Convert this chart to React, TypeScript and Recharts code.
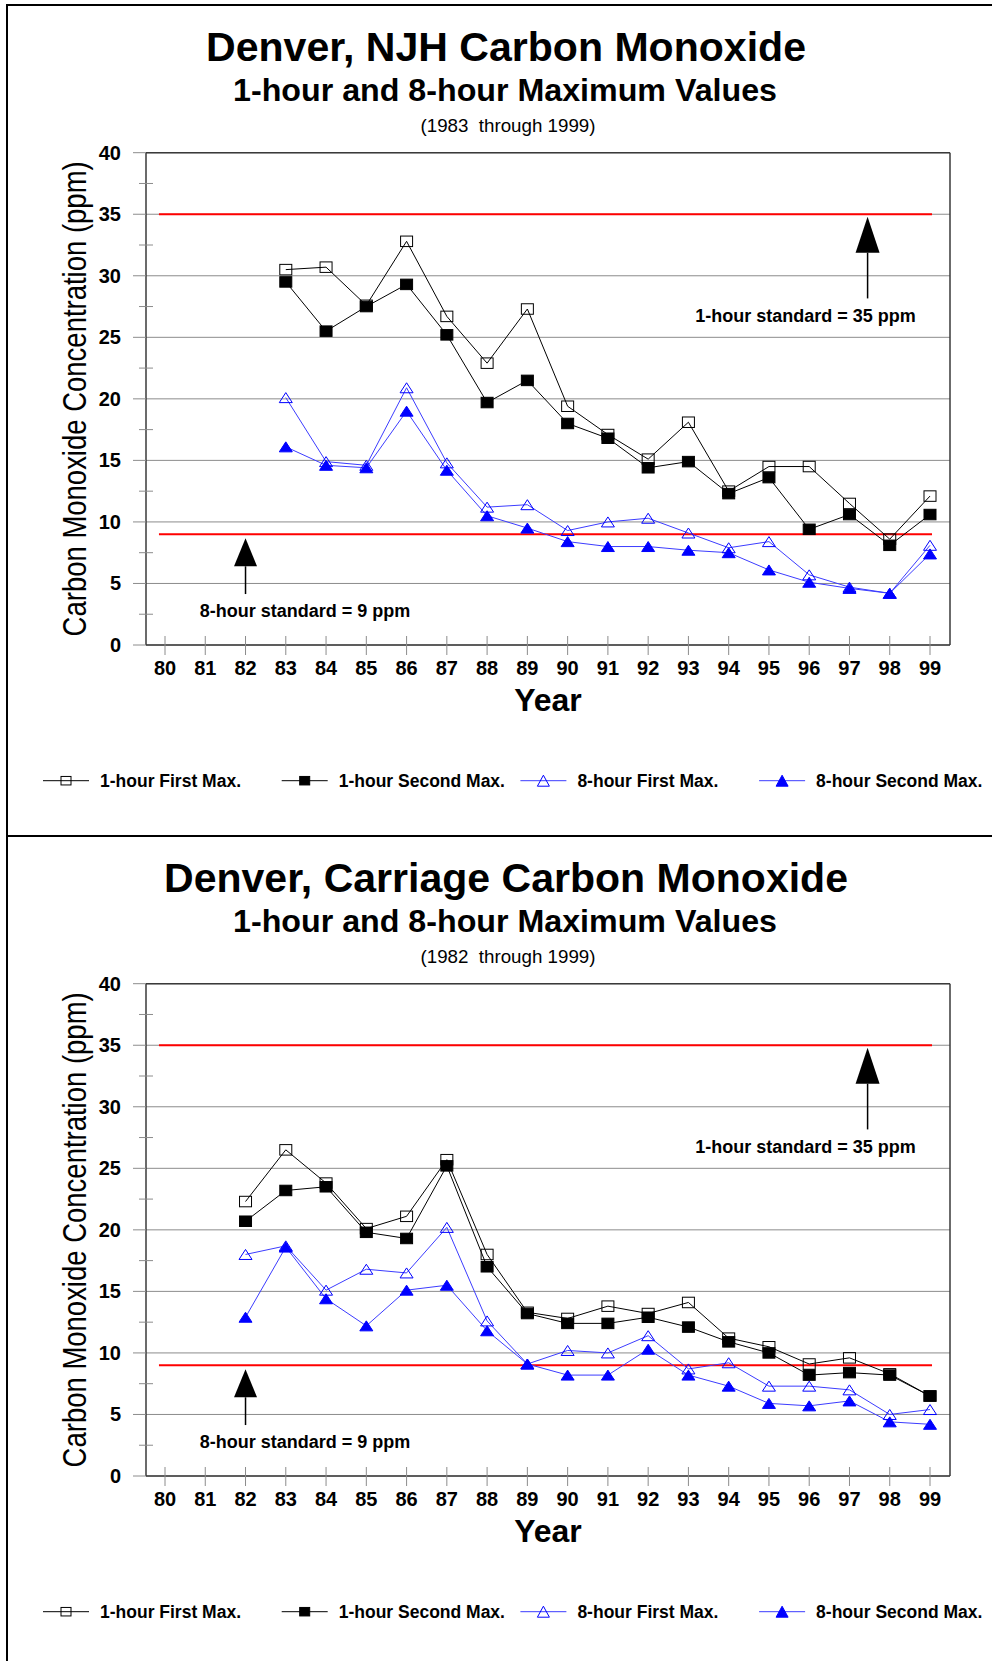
// Denver carbon monoxide trends, two stacked panels (NJH and Carriage sites).
import {
  CartesianGrid,
  Label,
  Legend,
  Line,
  LineChart,
  ReferenceDot,
  ReferenceLine,
  XAxis,
  YAxis,
} from 'recharts';

const YEAR_TICKS = [80, 81, 82, 83, 84, 85, 86, 87, 88, 89, 90, 91, 92, 93, 94, 95, 96, 97, 98, 99];
const PPM_TICKS = [0, 2.5, 5, 7.5, 10, 12.5, 15, 17.5, 20, 22.5, 25, 27.5, 30, 32.5, 35, 37.5, 40];
const PPM_GRID = [0, 5, 10, 15, 20, 25, 30, 35, 40];

// Denver, NJH (1983 through 1999)
const njhYears = [83, 84, 85, 86, 87, 88, 89, 90, 91, 92, 93, 94, 95, 96, 97, 98, 99];
const njh1hFirst = [30.5, 30.7, 27.6, 32.8, 26.7, 22.9, 27.3, 19.4, 17.1, 15.1, 18.1, 12.5, 14.5, 14.5, 11.5, 8.6, 12.1];
const njh1hSecond = [29.5, 25.5, 27.5, 29.3, 25.2, 19.7, 21.5, 18.0, 16.8, 14.4, 14.9, 12.3, 13.6, 9.4, 10.6, 8.1, 10.6];
const njh8hFirst = [20.1, 14.9, 14.6, 20.9, 14.8, 11.2, 11.4, 9.3, 10.0, 10.3, 9.1, 7.9, 8.4, 5.7, 4.7, 4.2, 8.1];
const njh8hSecond = [16.1, 14.6, 14.4, 19.0, 14.2, 10.5, 9.5, 8.4, 8.0, 8.0, 7.7, 7.5, 6.1, 5.1, 4.6, 4.2, 7.4];

// Denver, Carriage (1982 through 1999)
const carYears = [82, 83, 84, 85, 86, 87, 88, 89, 90, 91, 92, 93, 94, 95, 96, 97, 98, 99];
const car1hFirst = [22.3, 26.5, 23.8, 20.1, 21.1, 25.7, 18.0, 13.3, 12.8, 13.8, 13.2, 14.1, 11.2, 10.5, 9.1, 9.6, 8.3, 6.5];
const car1hSecond = [20.7, 23.2, 23.5, 19.8, 19.3, 25.2, 17.0, 13.2, 12.4, 12.4, 12.9, 12.1, 10.9, 10.0, 8.2, 8.4, 8.2, 6.5];
const car8hFirst = [18.0, 18.7, 15.1, 16.8, 16.5, 20.2, 12.6, 9.1, 10.2, 10.0, 11.4, 8.7, 9.2, 7.3, 7.3, 7.0, 5.0, 5.4];
const car8hSecond = [12.9, 18.6, 14.4, 12.2, 15.1, 15.5, 11.8, 9.1, 8.2, 8.2, 10.3, 8.2, 7.3, 5.9, 5.7, 6.1, 4.4, 4.2];

// NAAQS standards and the arrow annotations, in data units (year, ppm)
const standardValues = [35, 9];
const standardSpan = [79.85, 99.05];
const arrowYears = [82, 97.45];
const arrowTips = [8.67, 34.8];
const arrowTails = [4.14, 28.16];
const arrowLabels = ['8-hour standard = 9 ppm', '1-hour standard = 35 ppm'];
const labelYears = [83.48, 95.91];
const labelValues = [2.27, 26.26];

const W = 992;
const H = 831;
const FONT = '"Liberation Sans", Arial, Helvetica, sans-serif';
const GRID = '#8c8c8c';
const AXIS = '#3a3a3a';
const BLUE = '#0000ff';
const RED = '#ff0000';
const ARROW_HEADS = [
  { w: 23, h: 28 },
  { w: 24, h: 36 },
];

interface SeriesStyle {
  key: string;
  name: string;
  shape: 'square' | 'triangle';
  filled: boolean;
  color: string;
  line: string;
}

const SERIES: SeriesStyle[] = [
  { key: 'h1First', name: '1-hour First Max.', shape: 'square', filled: false, color: '#000', line: '#000' },
  { key: 'h1Second', name: '1-hour Second Max.', shape: 'square', filled: true, color: '#000', line: '#000' },
  { key: 'h8First', name: '8-hour First Max.', shape: 'triangle', filled: false, color: BLUE, line: '#3c3cff' },
  { key: 'h8Second', name: '8-hour Second Max.', shape: 'triangle', filled: true, color: BLUE, line: '#3c3cff' },
];

function marker(s: SeriesStyle, cx: number, cy: number, w: number, h: number, key?: string | number) {
  const fill = s.filled ? s.color : 'none';
  if (s.shape === 'square') {
    return <rect key={key} x={cx - w / 2} y={cy - h / 2} width={w} height={h} fill={fill} stroke={s.color} strokeWidth={1} />;
  }
  const d = `M${cx},${cy - h / 2} L${cx + w / 2},${cy + h / 2} L${cx - w / 2},${cy + h / 2} Z`;
  return <path key={key} d={d} fill={fill} stroke={s.color} strokeWidth={1} />;
}

function buildRows(years: number[], a: number[], b: number[], c: number[], d: number[]) {
  return years.map((year, i) => ({ year, h1First: a[i], h1Second: b[i], h8First: c[i], h8Second: d[i] }));
}

const renderYTick = (p: any) => {
  const { x, y, payload } = p;
  const v = payload.value as number;
  if (v % 5 !== 0) {
    return <line x1={x - 7} x2={x + 7} y1={y} y2={y} stroke={GRID} />;
  }
  return (
    <g>
      <line x1={x - 13} x2={x} y1={y} y2={y} stroke={GRID} />
      <text x={x - 25} y={y + 7} textAnchor="end" fontFamily={FONT} fontWeight="bold" fontSize={20} fill="#000">
        {v}
      </text>
    </g>
  );
};

const renderXTick = (p: any) => {
  const { x, y, payload } = p;
  return (
    <g>
      <line x1={x} x2={x} y1={y - 9} y2={y + 10} stroke={GRID} />
      <text x={x} y={y + 30} textAnchor="middle" fontFamily={FONT} fontWeight="bold" fontSize={20} fill="#000">
        {payload.value}
      </text>
    </g>
  );
};

const renderPpmLabel = (p: any) => {
  const vb = p.viewBox;
  const cy = vb.y + vb.height / 2;
  return (
    <text
      transform={`translate(${vb.x + 86} ${cy}) scale(1.22 1) rotate(-90)`}
      textAnchor="middle"
      fontFamily={FONT}
      fontSize={27.5}
      fill="#000"
    >
      Carbon Monoxide Concentration (ppm)
    </text>
  );
};

const renderYearLabel = (p: any) => {
  const vb = p.viewBox;
  return (
    <text x={vb.x + vb.width / 2} y={vb.y + 66} textAnchor="middle" fontFamily={FONT} fontWeight="bold" fontSize={32} fill="#000">
      Year
    </text>
  );
};

// top and right edges of the plot box
const topEdge = ({ offset }: any) => [offset.top];
const rightEdge = ({ offset }: any) => [offset.left + offset.width];

function LegendRow() {
  return (
    <svg width={W} height={30} style={{ display: 'block' }}>
      {SERIES.map((s, i) => {
        const x0 = 43 + i * 238.7;
        return (
          <g key={s.key}>
            <line x1={x0} x2={x0 + 46} y1={14.7} y2={14.7} stroke={s.line} strokeWidth={1} />
            {marker(s, x0 + 23, 14.7, s.shape === 'square' ? 10 : 12, s.shape === 'square' ? 8.5 : 11)}
            <text x={x0 + 57} y={20.7} fontFamily={FONT} fontWeight="bold" fontSize={17.5} fill="#000">
              {s.name}
            </text>
          </g>
        );
      })}
    </svg>
  );
}

const arrowShape = (head: { w: number; h: number }) => (p: any) => {
  const { x1, y1, y2 } = p;
  return (
    <g>
      <line x1={x1} x2={x1} y1={y1 + head.h} y2={y2} stroke="#000" strokeWidth={1.5} />
      <polygon points={`${x1},${y1} ${x1 + head.w / 2},${y1 + head.h} ${x1 - head.w / 2},${y1 + head.h}`} fill="#000" />
    </g>
  );
};

const annotationText = (text: string) => (p: any) => (
  <text x={p.cx} y={p.cy} textAnchor="middle" fontFamily={FONT} fontWeight="bold" fontSize={18} fill="#000">
    {text}
  </text>
);

interface PanelProps {
  title: string;
  titleWidth: number;
  subtitle: string;
  rows: ReturnType<typeof buildRows>;
  first: boolean;
}

function Panel({ title, titleWidth, subtitle, rows, first }: PanelProps) {
  return (
    <div style={{ position: 'relative', width: W, height: H }}>
      <LineChart width={W} height={H} data={rows} margin={{ top: 152.7, right: 42, bottom: 126, left: 0 }}>
        <CartesianGrid vertical={false} horizontalValues={PPM_GRID} stroke={GRID} />
        <CartesianGrid
          horizontalCoordinatesGenerator={topEdge}
          verticalCoordinatesGenerator={rightEdge}
          stroke={AXIS}
          strokeWidth={1.5}
        />
        <XAxis
          dataKey="year"
          type="number"
          domain={[80, 99]}
          ticks={YEAR_TICKS}
          interval={0}
          padding={{ left: 19, right: 20 }}
          height={60}
          tickLine={false}
          tickSize={0}
          tickMargin={0}
          axisLine={{ stroke: AXIS, strokeWidth: 1.5 }}
          tick={renderXTick}
        >
          <Label content={renderYearLabel} />
        </XAxis>
        <YAxis
          type="number"
          domain={[0, 40]}
          ticks={PPM_TICKS}
          interval={0}
          width={146}
          tickLine={false}
          tickSize={0}
          tickMargin={0}
          axisLine={{ stroke: AXIS, strokeWidth: 1.5 }}
          tick={renderYTick}
        >
          <Label content={renderPpmLabel} />
        </YAxis>
        {standardValues.map((v) => (
          <ReferenceLine
            key={`std-${v}`}
            segment={[
              { x: standardSpan[0], y: v },
              { x: standardSpan[1], y: v },
            ]}
            stroke={RED}
            strokeWidth={2}
            ifOverflow="visible"
          />
        ))}
        {arrowYears.map((x, i) => (
          <ReferenceLine
            key={`arrow-${i}`}
            segment={[
              { x, y: arrowTips[i] },
              { x, y: arrowTails[i] },
            ]}
            ifOverflow="visible"
            shape={arrowShape(ARROW_HEADS[i])}
          />
        ))}
        {arrowLabels.map((text, i) => (
          <ReferenceDot
            key={`label-${i}`}
            x={labelYears[i]}
            y={labelValues[i]}
            r={0}
            ifOverflow="visible"
            shape={annotationText(text)}
          />
        ))}
        {SERIES.map((s) => (
          <Line
            key={s.key}
            type="linear"
            dataKey={s.key}
            name={s.name}
            stroke={s.line}
            strokeWidth={1}
            dot={(p: any) => marker(s, p.cx, p.cy, s.shape === 'square' ? 12 : 13, s.shape === 'square' ? 10.5 : 10, p.index)}
            activeDot={false}
            isAnimationActive={false}
          />
        ))}
        <Legend
          layout="horizontal"
          verticalAlign="middle"
          align="center"
          wrapperStyle={{ left: 0, top: 766, width: W, height: 30 }}
          content={() => <LegendRow />}
        />
      </LineChart>
      <svg width={W} height={H} style={{ position: 'absolute', left: 0, top: 0, pointerEvents: 'none' }}>
        <rect x={6} y={4} width={W - 6} height={2} fill="#000" />
        <rect x={6} y={first ? 4 : 0} width={2} height={first ? H - 4 : H} fill="#000" />
        <text
          x={506}
          y={61}
          textAnchor="middle"
          fontFamily={FONT}
          fontWeight="bold"
          fontSize={40}
          textLength={titleWidth}
          lengthAdjust="spacingAndGlyphs"
        >
          {title}
        </text>
        <text
          x={505}
          y={101}
          textAnchor="middle"
          fontFamily={FONT}
          fontWeight="bold"
          fontSize={32}
          textLength={544}
          lengthAdjust="spacingAndGlyphs"
        >
          1-hour and 8-hour Maximum Values
        </text>
        <text
          x={508}
          y={131.5}
          textAnchor="middle"
          fontFamily={FONT}
          fontSize={18.5}
          textLength={175}
          lengthAdjust="spacingAndGlyphs"
          style={{ whiteSpace: 'pre' }}
        >
          {subtitle}
        </text>
      </svg>
    </div>
  );
}

export default function App() {
  return (
    <div style={{ position: 'absolute', left: 0, top: 0, width: W, height: 1661, background: '#fff', overflow: 'hidden' }}>
      <Panel
        title="Denver, NJH Carbon Monoxide"
        titleWidth={600}
        subtitle="(1983  through 1999)"
        rows={buildRows(njhYears, njh1hFirst, njh1hSecond, njh8hFirst, njh8hSecond)}
        first
      />
      <Panel
        title="Denver, Carriage Carbon Monoxide"
        titleWidth={684}
        subtitle="(1982  through 1999)"
        rows={buildRows(carYears, car1hFirst, car1hSecond, car8hFirst, car8hSecond)}
        first={false}
      />
    </div>
  );
}
